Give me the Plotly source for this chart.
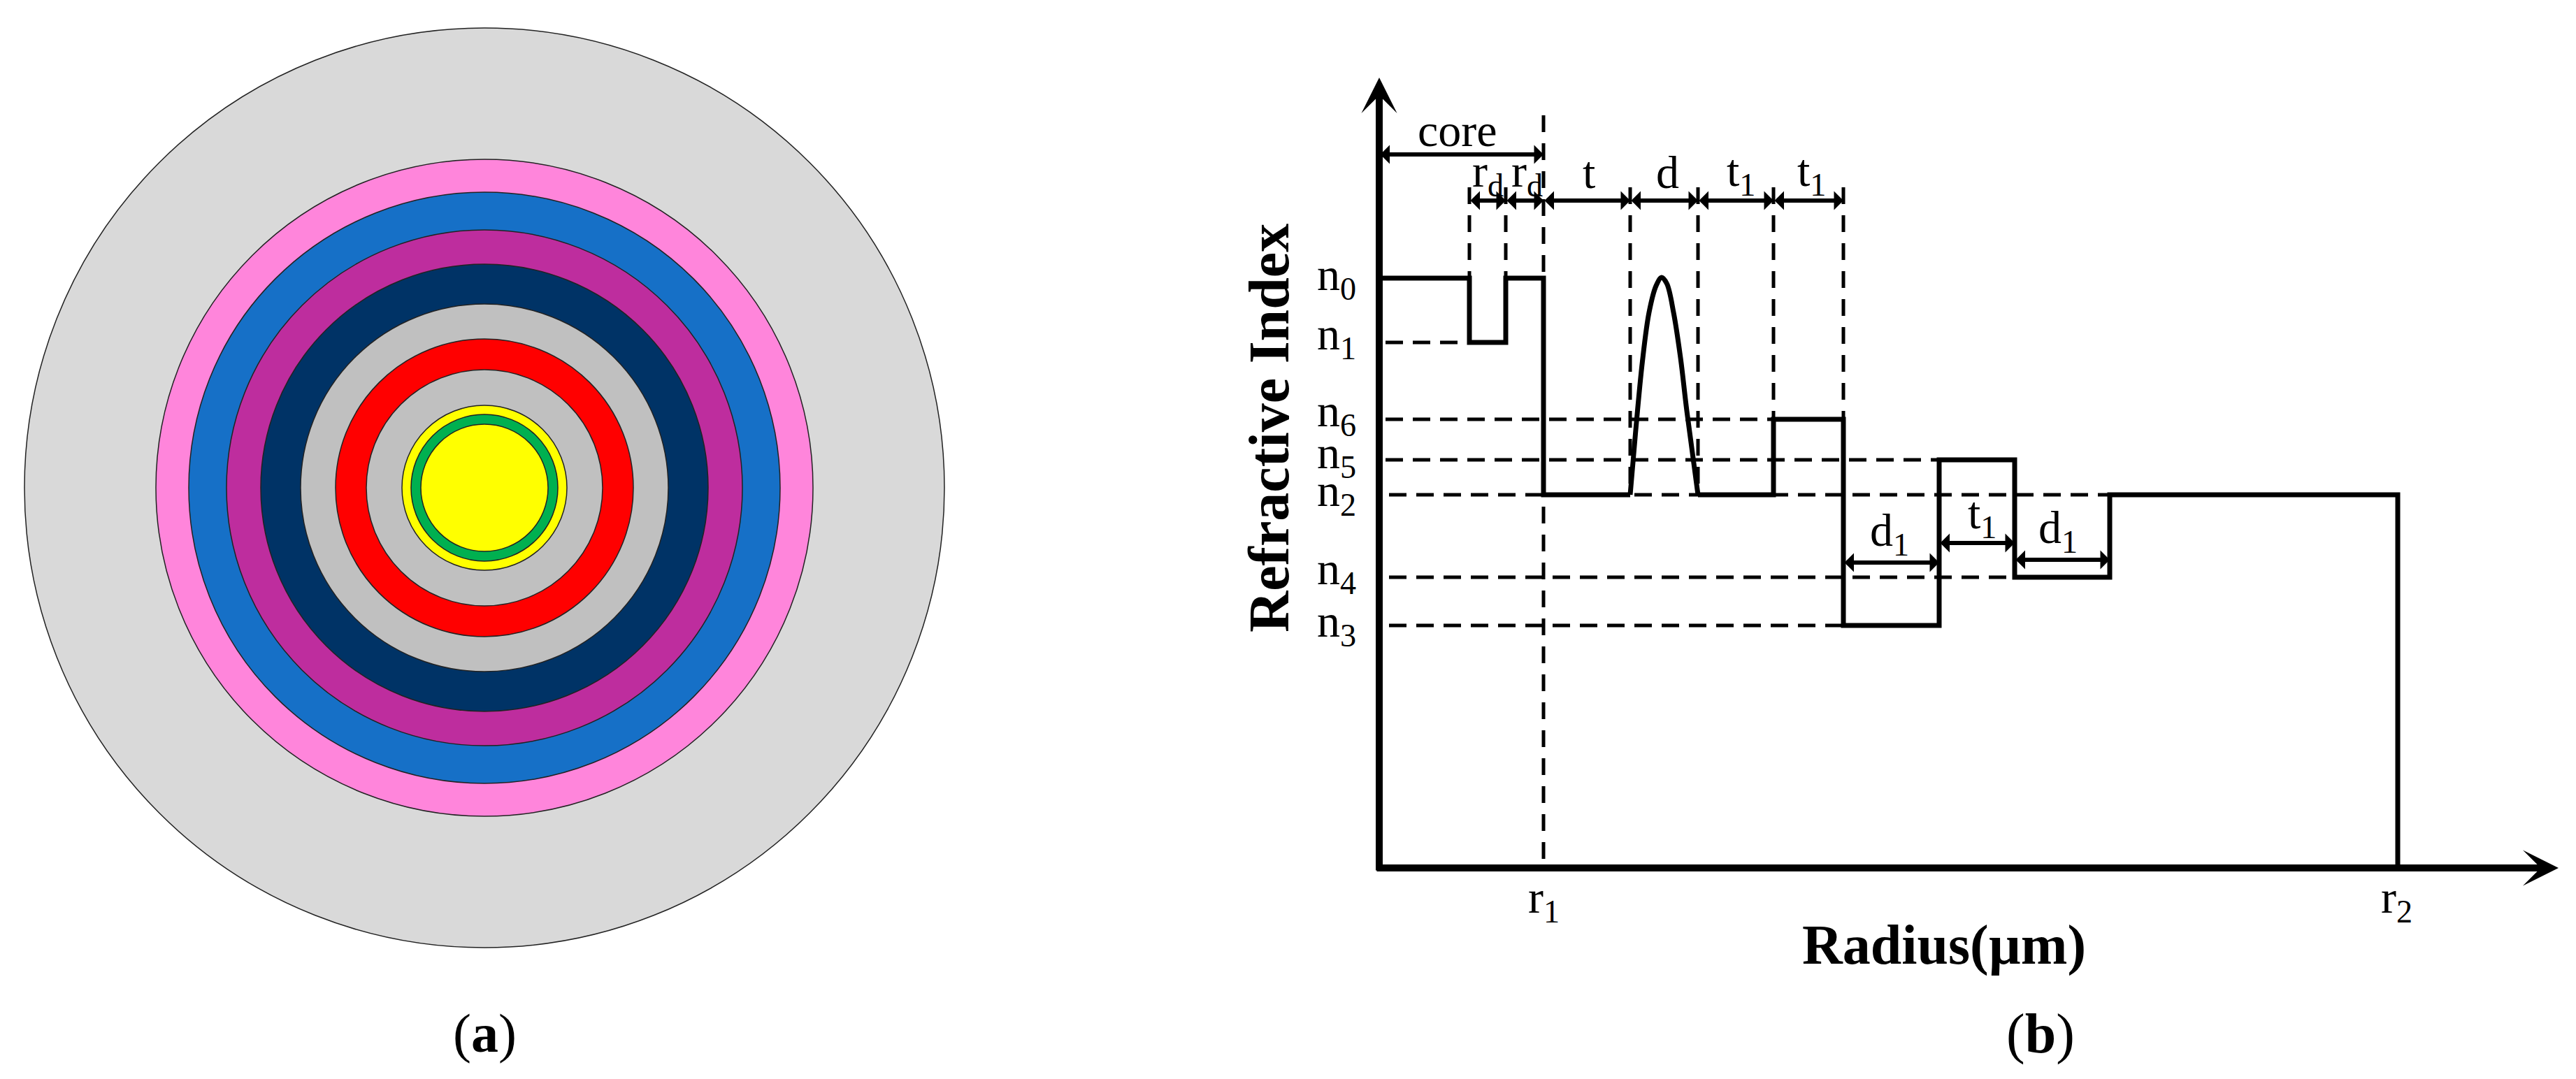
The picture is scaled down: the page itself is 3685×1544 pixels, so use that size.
import plotly.graph_objects as go

# panel (a): ring radii from outside in, with fill colours
ring_radius = [658, 470, 423, 369, 320, 263, 213, 169, 118, 105, 91]
ring_color = ["#D9D9D9", "#FF85DB", "#1670C7", "#BE2D9E", "#003366", "#C0C0C0",
              "#FF0000", "#C0C0C0", "#FFFF00", "#00B050", "#FFFF00"]

# panel (b): index profile, split around the graded bump
step_left_x = [0, 129, 129, 181, 181, 235, 235, 359]
step_left_y = [844, 844, 752, 752, 844, 844, 534, 534]
bump_x = [359, 367, 376.5, 386, 396, 404, 411.5, 421, 431, 440, 456]
bump_y = [534, 627, 725, 795, 833, 845, 836, 795, 730, 654, 534]
step_right_x = [456, 564, 564, 664, 664, 801, 801, 909, 909, 1045, 1045, 1457, 1457]
step_right_y = [534, 534, 642, 642, 347, 347, 584, 584, 416, 416, 534, 534, 0]

# dashed guides
v_guide_x = [235, 129, 181, 359, 456, 564, 664]
v_guide_top = [1077, 974, 974, 974, 974, 974, 974]
v_guide_bottom = [0, 844, 844, 534, 534, 642, 642]
h_guide_y = [752, 642, 584, 534, 416, 347]
h_guide_start = [9, 9, 9, 14, 14, 14]
h_guide_end = [129, 564, 801, 1045, 909, 664]

# double arrows: start, end, height
arrow_start = [0, 129, 181, 235, 359, 456, 564, 664, 801, 909]
arrow_end = [235, 181, 235, 359, 456, 564, 664, 801, 909, 1045]
arrow_y = [1021, 955, 955, 955, 955, 955, 955, 437, 465, 441]

# text labels
label_text = ["n<sub>0</sub>", "n<sub>1</sub>", "n<sub>6</sub>", "n<sub>5</sub>", "n<sub>2</sub>",
              "n<sub>4</sub>", "n<sub>3</sub>", "core", "r<sub>d</sub>", "r<sub>d</sub>", "t", "d",
              "t<sub>1</sub>", "t<sub>1</sub>", "d<sub>1</sub>", "t<sub>1</sub>", "d<sub>1</sub>",
              "r<sub>1</sub>", "r<sub>2</sub>"]
label_x = [-61, -61, -61, -61, -61, -61, -61, 112, 155, 211, 300, 412, 517, 618, 730, 862, 971, 235, 1455]
label_y = [845, 760, 650, 590, 536, 424, 349, 1056, 993, 993, 996, 996, 994, 994, 479, 504, 483, -46, -46]

fig = go.Figure()

# rings as circles on the first pair of axes
for r, c in zip(ring_radius, ring_color):
    fig.add_shape(type="circle", xref="x", yref="y", x0=-r, x1=r, y0=-r, y1=r,
                  fillcolor=c, line=dict(color="#222222", width=1.5))

for x, top, bottom in zip(v_guide_x, v_guide_top, v_guide_bottom):
    fig.add_trace(go.Scatter(x=[x, x], y=[top, bottom], mode="lines", xaxis="x2", yaxis="y2",
                             line=dict(color="black", width=5, dash="24px,16px")))
for y, x0, x1 in zip(h_guide_y, h_guide_start, h_guide_end):
    fig.add_trace(go.Scatter(x=[x0, x1], y=[y, y], mode="lines", xaxis="x2", yaxis="y2",
                             line=dict(color="black", width=5, dash="25px,14px")))

fig.add_trace(go.Scatter(x=step_left_x, y=step_left_y, mode="lines", xaxis="x2", yaxis="y2",
                         line=dict(color="black", width=7)))
fig.add_trace(go.Scatter(x=bump_x, y=bump_y, mode="lines", xaxis="x2", yaxis="y2",
                         line=dict(color="black", width=7, shape="spline")))
fig.add_trace(go.Scatter(x=step_right_x, y=step_right_y, mode="lines", xaxis="x2", yaxis="y2",
                         line=dict(color="black", width=7)))

# main axes with arrow heads
fig.add_annotation(x=0, y=1131, ax=0, ay=-5, xref="x2", yref="y2", axref="x2", ayref="y2", text="",
                   showarrow=True, arrowhead=3, arrowsize=0.85, arrowwidth=10, arrowcolor="black")
fig.add_annotation(x=1687, y=0, ax=-5, ay=0, xref="x2", yref="y2", axref="x2", ayref="y2", text="",
                   showarrow=True, arrowhead=3, arrowsize=0.85, arrowwidth=10, arrowcolor="black")

for x0, x1, y in zip(arrow_start, arrow_end, arrow_y):
    fig.add_annotation(x=x1, y=y, ax=x0, ay=y, xref="x2", yref="y2", axref="x2", ayref="y2", text="",
                       showarrow=True, arrowside="end+start", arrowhead=1, startarrowhead=1,
                       arrowsize=0.75, startarrowsize=0.75, arrowwidth=6, arrowcolor="black")

for t, x, y in zip(label_text, label_x, label_y):
    fig.add_annotation(x=x, y=y, xref="x2", yref="y2", text=t, showarrow=False,
                       font=dict(family="Liberation Serif", size=66, color="black"))

# axis titles and panel captions
fig.add_annotation(x=-158, y=629, xref="x2", yref="y2", text="<b>Refractive Index</b>", textangle=-90,
                   showarrow=False, font=dict(family="Liberation Serif", size=82, color="black"))
fig.add_annotation(x=808, y=-110, xref="x2", yref="y2", text="<b>Radius(µm)</b>",
                   showarrow=False, font=dict(family="Liberation Serif", size=80, color="black"))
fig.add_annotation(x=0, y=-780, xref="x", yref="y", text="(<b>a</b>)",
                   showarrow=False, font=dict(family="Liberation Serif", size=78, color="black"))
fig.add_annotation(x=946, y=-237, xref="x2", yref="y2", text="(<b>b</b>)",
                   showarrow=False, font=dict(family="Liberation Serif", size=80, color="black"))

fig.update_layout(
    width=3685, height=1544,
    margin=dict(l=0, r=0, t=0, b=0),
    plot_bgcolor="white", paper_bgcolor="white",
    showlegend=False,
    hovermode=False,
    xaxis=dict(domain=[0, 1400 / 3685], range=[-693, 707], visible=False),
    yaxis=dict(domain=[0, 1], range=[-846, 698], visible=False),
    xaxis2=dict(domain=[1700 / 3685, 1], range=[-273, 1712], visible=False, anchor="y2"),
    yaxis2=dict(domain=[0, 1], range=[-302, 1242], visible=False, anchor="x2"),
)

# drop the browser's default page margin so the figure fills the window exactly
fig.write_html("out.html", config=dict(displayModeBar=False),
               post_script="document.body.style.margin = '0';")
